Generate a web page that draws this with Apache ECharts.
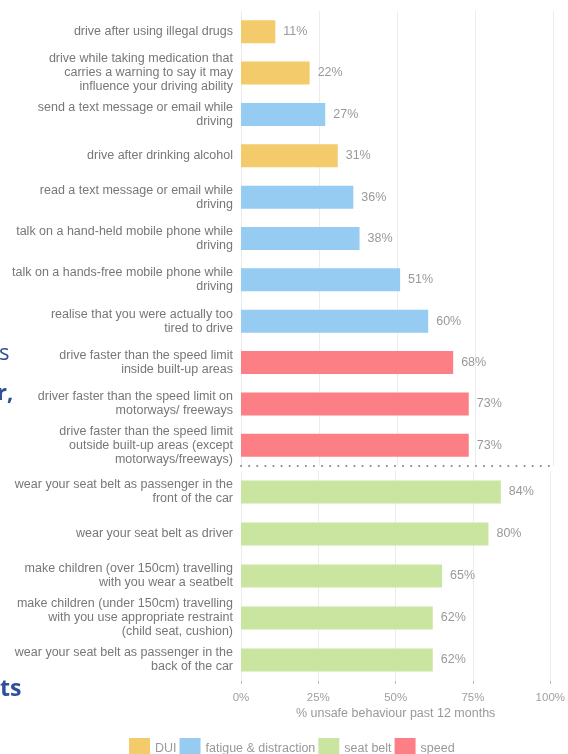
<!DOCTYPE html>
<html>
    <head>
        <title>unsafe behaviour</title>
        <meta charset="utf-8">
        <script src="https://cdn.jsdelivr.net/npm/echarts@6/dist/echarts.min.js"></script>
        <style>
            body { margin: 0; background: #fff; }
        </style>
    </head>

    <body>
        <div id="bar" style="width:568px; height:754px;"></div>

        <script>
            // top block (DUI, fatigue & distraction, speed)
            var topLabels = [
                "drive after using illegal drugs",
                "drive while taking medication that\ncarries a warning to say it may\ninfluence your driving ability",
                "send a text message or email while\ndriving",
                "drive after drinking alcohol",
                "read a text message or email while\ndriving",
                "talk on a hand-held mobile phone while\ndriving",
                "talk on a hands-free mobile phone while\ndriving",
                "realise that you were actually too\ntired to drive",
                "drive faster than the speed limit\ninside built-up areas",
                "driver faster than the speed limit on\nmotorways/ freeways",
                "drive faster than the speed limit\noutside built-up areas (except\nmotorways/freeways)"
            ];
            var topValues = [11, 22, 27, 31, 36, 38, 51, 60, 68, 73, 73];
            var topGroups = ["DUI", "DUI", "fatigue & distraction", "DUI", "fatigue & distraction",
                "fatigue & distraction", "fatigue & distraction", "fatigue & distraction",
                "speed", "speed", "speed"];

            // bottom block (seat belt)
            var bottomLabels = [
                "wear your seat belt as passenger in the\nfront of the car",
                "wear your seat belt as driver",
                "make children (over 150cm) travelling\nwith you wear a seatbelt",
                "make children (under 150cm) travelling\nwith you use appropriate restraint\n(child seat, cushion)",
                "wear your seat belt as passenger in the\nback of the car"
            ];
            var bottomValues = [84, 80, 65, 62, 62];

            var legendNames = ["DUI", "fatigue & distraction", "seat belt", "speed"];
            var groupColors = {
                "DUI": "#F3CB6B",
                "fatigue & distraction": "#96CBF2",
                "seat belt": "#C9E5A0",
                "speed": "#FB7F85"
            };
            var xTicks = [0, 25, 50, 75, 100];

            var font = '"Liberation Sans", Arial, sans-serif';

            function pick(values, groups, name) {
                return values.map(function (v, i) { return groups[i] === name ? v : null; });
            }

            function barSeries(name, axisIdx, data) {
                return {
                    name: name,
                    type: 'bar',
                    stack: 'all' + axisIdx,
                    xAxisIndex: axisIdx,
                    yAxisIndex: axisIdx,
                    barWidth: 23,
                    itemStyle: { color: groupColors[name] },
                    label: {
                        show: true,
                        position: 'right',
                        distance: 8,
                        formatter: '{c}%',
                        color: '#999',
                        fontSize: 12.5,
                        fontFamily: font
                    },
                    data: data
                };
            }

            function valueAxis(idx, isBottom) {
                return {
                    type: 'value',
                    gridIndex: idx,
                    min: xTicks[0],
                    max: xTicks[xTicks.length - 1],
                    interval: 25,
                    axisLine: isBottom ? { show: false } : {
                        show: true,
                        lineStyle: { color: '#888', width: 2, type: [0.1, 8], cap: 'round' }
                    },
                    axisTick: { show: isBottom, length: 3, lineStyle: { color: '#bbb' } },
                    axisLabel: {
                        show: isBottom,
                        formatter: '{value}%',
                        color: '#a0a0a0',
                        fontSize: 11.5,
                        fontFamily: font,
                        margin: 11
                    },
                    splitLine: { show: true, lineStyle: { color: '#ececec' } },
                    name: isBottom ? '% unsafe behaviour past 12 months' : '',
                    nameLocation: 'middle',
                    nameGap: 26,
                    nameTextStyle: { color: '#999', fontSize: 12.5, fontFamily: font }
                };
            }

            function catAxis(idx, labels) {
                return {
                    type: 'category',
                    gridIndex: idx,
                    inverse: true,
                    data: labels,
                    axisLine: { show: false },
                    axisTick: { show: false },
                    axisLabel: {
                        color: '#777',
                        fontSize: 12.5,
                        lineHeight: 14,
                        fontFamily: font,
                        margin: 8
                    }
                };
            }

            var chart = echarts.init(document.getElementById('bar'), null, {renderer: 'canvas'});

            var option = {
                backgroundColor: '#fff',
                animation: false,
                grid: [
                    { left: 241, right: 15, top: 11, height: 455 },
                    { left: 241, right: 15, top: 471, height: 210 }
                ],
                xAxis: [valueAxis(0, false), valueAxis(1, true)],
                yAxis: [catAxis(0, topLabels), catAxis(1, bottomLabels)],
                legend: {
                    data: legendNames,
                    left: 129,
                    top: 738,
                    padding: 0,
                    icon: 'rect',
                    itemWidth: 21,
                    itemHeight: 22,
                    itemGap: 3,
                    textStyle: { color: '#999', fontSize: 12.5, fontFamily: font }
                },
                graphic: [
                    { type: 'text', left: -10, top: 343, style: { text: 'rs', fill: '#2F4E9C', font: '22px "Open Sans", sans-serif' } },
                    { type: 'text', left: -3, top: 383, style: { text: 'r,', fill: '#2F4E9C', font: 'bold 22px "Open Sans", sans-serif' } },
                    { type: 'text', left: 0, top: 678, style: { text: 'ts', fill: '#2F4E9C', font: 'bold 23px "Open Sans", sans-serif' } }
                ],
                series: [
                    barSeries("DUI", 0, pick(topValues, topGroups, "DUI")),
                    barSeries("fatigue & distraction", 0, pick(topValues, topGroups, "fatigue & distraction")),
                    barSeries("speed", 0, pick(topValues, topGroups, "speed")),
                    barSeries("seat belt", 1, bottomValues)
                ]
            };

            chart.setOption(option);
        </script>
    </body>
</html>
